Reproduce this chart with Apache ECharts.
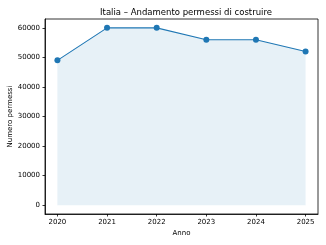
<!DOCTYPE html>
<html><head><meta charset="utf-8">
<script src="https://cdn.jsdelivr.net/npm/echarts@6/dist/echarts.min.js"></script>
<style>html,body{margin:0;padding:0;background:#fff}#c{width:326px;height:245px}</style>
</head><body><div id="c"></div>
<script>
var years = [2020, 2021, 2022, 2023, 2024, 2025];
var permits = [49000, 60000, 60000, 56000, 56000, 52000];
var yTicks = [0, 10000, 20000, 30000, 40000, 50000, 60000];
var titleText = 'Italia – Andamento permessi di costruire';
var xName = 'Anno';
var yName = 'Numero permessi';

var font = 'DejaVu Sans';
var chart = echarts.init(document.getElementById('c'), null, {renderer: 'canvas'});
chart.setOption({
  animation: false,
  backgroundColor: '#fff',
  title: {text: titleText, left: 181, top: 3, textAlign: 'center',
    textStyle: {fontFamily: font, fontSize: 8.5, fontWeight: 'normal', color: '#000'}},
  grid: {left: 45, right: 8, top: 19, bottom: 31, show: true, borderColor: '#000', borderWidth: 0.8,
    backgroundColor: 'transparent', containLabel: false, outerBoundsMode: 'none'},
  xAxis: {
    type: 'value', min: 2019.75, max: 2025.25,
    name: xName, nameLocation: 'middle', nameGap: 16, nameMoveOverlap: false,
    nameTextStyle: {fontFamily: font, fontSize: 7, color: '#000'},
    axisLine: {show: true, onZero: false, lineStyle: {color: '#000', width: 0.8}},
    axisTick: {show: true, length: 2.5, customValues: years, lineStyle: {color: '#000', width: 0.8}},
    axisLabel: {customValues: years, fontFamily: font, fontSize: 7, color: '#000', margin: 5,
      formatter: function (v) { return String(v); }},
    splitLine: {show: false}
  },
  yAxis: {
    type: 'value', min: -3000, max: 63000,
    name: yName, nameLocation: 'middle', nameGap: 31, nameRotate: 90, nameMoveOverlap: false,
    nameTextStyle: {fontFamily: font, fontSize: 7, color: '#000'},
    axisLine: {show: true, onZero: false, lineStyle: {color: '#000', width: 0.8}},
    axisTick: {show: true, length: 2.5, customValues: yTicks, lineStyle: {color: '#000', width: 0.8}},
    axisLabel: {customValues: yTicks, fontFamily: font, fontSize: 7, color: '#000', margin: 5,
      formatter: function (v) { return String(v); }},
    splitLine: {show: false}
  },
  series: [{
    type: 'line',
    data: years.map(function (y, i) { return [y, permits[i]]; }),
    symbol: 'circle', symbolSize: 6,
    itemStyle: {color: '#1f77b4'},
    lineStyle: {color: '#1f77b4', width: 1.1},
    areaStyle: {color: 'rgba(31,119,180,0.15)', origin: 0}
  }]
});
</script></body></html>
